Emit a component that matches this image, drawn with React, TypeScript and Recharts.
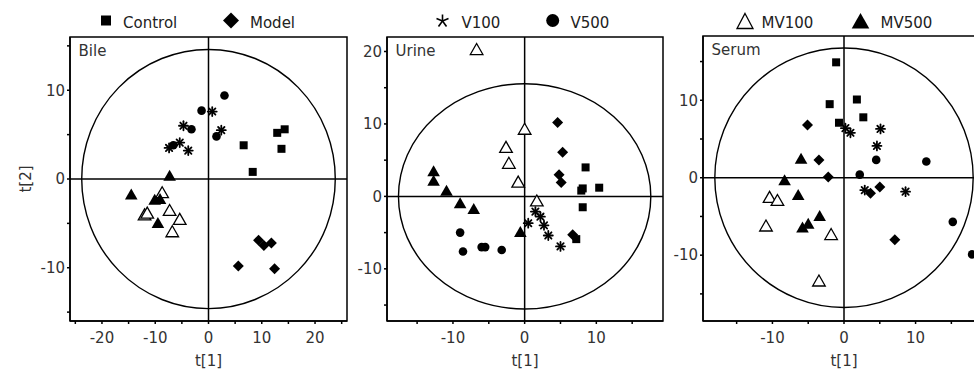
import { ScatterChart, Scatter, XAxis, YAxis, ReferenceLine, ReferenceArea } from "recharts";

const FONT = "'DejaVu Sans', sans-serif";

// ---- Bile scores ----
const bileControl = [{ x: 12.9, y: 5.2 }, { x: 14.3, y: 5.6 }, { x: 13.7, y: 3.4 }, { x: 6.6, y: 3.8 }, { x: 8.3, y: 0.8 }];
const bileModel = [{ x: 9.4, y: -6.9 }, { x: 10.4, y: -7.5 }, { x: 11.8, y: -7.2 }, { x: 5.6, y: -9.8 }, { x: 12.4, y: -10.1 }];
const bileV100 = [{ x: 0.7, y: 7.6 }, { x: -4.7, y: 6.0 }, { x: -5.4, y: 4.1 }, { x: -7.4, y: 3.5 }, { x: -3.8, y: 3.2 }, { x: 2.4, y: 5.5 }];
const bileV500 = [{ x: -1.3, y: 7.7 }, { x: 3.0, y: 9.4 }, { x: -3.2, y: 5.6 }, { x: 1.5, y: 4.8 }, { x: -6.6, y: 3.8 }];
const bileMV100 = [{ x: -8.7, y: -1.6 }, { x: -12.0, y: -4.1 }, { x: -11.5, y: -3.9 }, { x: -7.3, y: -3.6 }, { x: -5.4, y: -4.6 }, { x: -6.8, y: -6.0 }];
const bileMV500 = [{ x: -7.3, y: 0.3 }, { x: -14.5, y: -1.8 }, { x: -10.1, y: -2.4 }, { x: -9.1, y: -2.3 }, { x: -9.5, y: -5.0 }];

// ---- Urine scores ----
const urineControl = [{ x: 8.5, y: 4.0 }, { x: 8.1, y: 1.1 }, { x: 7.9, y: 0.8 }, { x: 10.4, y: 1.2 }, { x: 8.1, y: -1.5 }, { x: 7.2, y: -5.9 }];
const urineModel = [{ x: 4.6, y: 10.2 }, { x: 5.3, y: 6.1 }, { x: 4.8, y: 3.0 }, { x: 5.1, y: 1.9 }, { x: 6.7, y: -5.3 }];
const urineV100 = [{ x: 0.5, y: -3.7 }, { x: 1.5, y: -2.1 }, { x: 2.2, y: -2.8 }, { x: 2.7, y: -4.0 }, { x: 3.3, y: -5.4 }, { x: 5.0, y: -6.9 }];
const urineV500 = [{ x: -9.0, y: -5.0 }, { x: -8.6, y: -7.6 }, { x: -6.0, y: -7.0 }, { x: -5.5, y: -7.0 }, { x: -3.2, y: -7.4 }];
const urineMV100 = [{ x: -6.7, y: 20.2 }, { x: 0, y: 9.2 }, { x: -2.6, y: 6.7 }, { x: -2.2, y: 4.5 }, { x: -0.9, y: 1.9 }, { x: 1.7, y: -0.7 }];
const urineMV500 = [{ x: -12.7, y: 3.4 }, { x: -12.7, y: 2.1 }, { x: -10.9, y: 0.7 }, { x: -9.0, y: -1.0 }, { x: -7.1, y: -1.8 }, { x: -0.6, y: -5.0 }];

// ---- Serum scores ----
const serumControl = [{ x: -1.1, y: 14.9 }, { x: -2.0, y: 9.5 }, { x: 1.8, y: 10.1 }, { x: 2.7, y: 7.8 }, { x: -0.7, y: 7.1 }];
const serumModel = [{ x: -5.1, y: 6.8 }, { x: -3.5, y: 2.3 }, { x: -2.2, y: 0.1 }, { x: 5.0, y: -1.2 }, { x: 3.7, y: -2.0 }, { x: 7.1, y: -8.0 }];
const serumV100 = [{ x: 0.2, y: 6.4 }, { x: 0.9, y: 5.8 }, { x: 5.1, y: 6.3 }, { x: 4.6, y: 4.1 }, { x: 2.9, y: -1.6 }, { x: 8.6, y: -1.8 }];
const serumV500 = [{ x: 4.5, y: 2.3 }, { x: 2.2, y: 0.4 }, { x: 11.5, y: 2.1 }, { x: 15.2, y: -5.7 }, { x: 17.9, y: -9.9 }];
const serumMV100 = [{ x: -10.4, y: -2.6 }, { x: -9.3, y: -3.0 }, { x: -10.9, y: -6.3 }, { x: -1.8, y: -7.4 }, { x: -3.5, y: -13.4 }];
const serumMV500 = [{ x: -6.0, y: 2.4 }, { x: -8.3, y: -0.4 }, { x: -6.4, y: -2.3 }, { x: -3.4, y: -5.0 }, { x: -5.0, y: -6.0 }, { x: -5.8, y: -6.5 }];

// axis ranges, ticks and Hotelling ellipse radii (t[1], t[2])
const bileXDomain = [-26, 26];
const bileYDomain = [-16, 16];
const bileXTicks = [-25, -20, -15, -10, -5, 0, 5, 10, 15, 20, 25];
const bileYTicks = [-15, -10, -5, 0, 5, 10, 15];
const bileEllipse = [23.8, 14.6];

const urineXDomain = [-19.2, 19.3];
const urineYDomain = [-17.2, 22];
const urineXTicks = [-15, -10, -5, 0, 5, 10, 15];
const urineYTicks = [-15, -10, -5, 0, 5, 10, 15, 20];
const urineEllipse = [17.6, 15.55];

const serumXDomain = [-19.7, 19.7];
const serumYDomain = [-18.5, 18.3];
const serumXTicks = [-15, -10, -5, 0, 5, 10, 15];
const serumYTicks = [-15, -10, -5, 0, 5, 10, 15];
const serumEllipse = [18.05, 16.75];

const groupNames = ["Control", "Model", "V100", "V500", "MV100", "MV500"];

// marker shapes
const Square = (p: any) => <rect x={p.cx - 4} y={p.cy - 4} width={8} height={8} fill="#000" />;
const Diamond = (p: any) => (
  <polygon points={`${p.cx},${p.cy - 5.5} ${p.cx + 5.5},${p.cy} ${p.cx},${p.cy + 5.5} ${p.cx - 5.5},${p.cy}`} fill="#000" />
);
const Dot = (p: any) => <circle cx={p.cx} cy={p.cy} r={4.3} fill="#000" />;
const Star = (p: any) => {
  const r = 4.5;
  const d = r * 0.707;
  return (
    <g stroke="#000" strokeWidth={1.8} strokeLinecap="round">
      <line x1={p.cx - r} y1={p.cy} x2={p.cx + r} y2={p.cy} />
      <line x1={p.cx} y1={p.cy - r} x2={p.cx} y2={p.cy + r} />
      <line x1={p.cx - d} y1={p.cy - d} x2={p.cx + d} y2={p.cy + d} />
      <line x1={p.cx - d} y1={p.cy + d} x2={p.cx + d} y2={p.cy - d} />
    </g>
  );
};
const triPts = (cx: number, cy: number) => `${cx},${cy - 6.5} ${cx + 6.3},${cy + 4.5} ${cx - 6.3},${cy + 4.5}`;
const OpenTri = (p: any) => <polygon points={triPts(p.cx, p.cy)} fill="#fff" stroke="#000" strokeWidth={1.3} />;
const FullTri = (p: any) => <polygon points={triPts(p.cx, p.cy)} fill="#000" />;

const shapes = [Square, Diamond, Star, Dot, OpenTri, FullTri];

const EllipseShape = (p: any) => (
  <ellipse
    cx={p.x + p.width / 2}
    cy={p.y + p.height / 2}
    rx={Math.abs(p.width) / 2}
    ry={Math.abs(p.height) / 2}
    fill="none"
    stroke="#000"
    strokeWidth={1.4}
  />
);

const YTitle = (p: any) => {
  const vb = p.viewBox || { x: 10, y: 37, width: 60, height: 284 };
  const x = vb.x + 16;
  const y = vb.y + vb.height / 2;
  return (
    <text x={x} y={y} transform={`rotate(-90, ${x}, ${y})`} textAnchor="middle" dy="0.35em" fill="#333" fontSize={15} fontFamily={FONT}>
      t[2]
    </text>
  );
};

const fmt = (v: number) => (v % 10 === 0 ? String(v) : "");

const tickStyle = { fill: "#333", fontSize: 15, fontFamily: FONT };

type PanelProps = {
  left: number;
  width: number;
  margin: { top: number; right: number; bottom: number; left: number };
  yAxisWidth: number;
  xDomain: number[];
  yDomain: number[];
  xTicks: number[];
  yTicks: number[];
  ellipse: number[];
  title: string;
  groups: { x: number; y: number }[][];
  yLabel?: boolean;
};

const Panel = (props: PanelProps) => {
  const { left, width, margin, yAxisWidth, xDomain, yDomain, xTicks, yTicks, ellipse, title, groups, yLabel } = props;
  return (
    <div style={{ position: "absolute", left, top: 0 }}>
      <ScatterChart width={width} height={371} margin={margin}>
        <XAxis
          type="number"
          dataKey="x"
          domain={xDomain}
          ticks={xTicks}
          allowDataOverflow
          interval={0}
          tickFormatter={fmt}
          tickSize={3}
          tickMargin={8}
          height={45}
          stroke="#000"
          strokeWidth={1.5}
          tick={tickStyle}
          label={{ value: "t[1]", position: "insideBottom", offset: 0, fill: "#333", fontSize: 15, fontFamily: FONT }}
        />
        <YAxis
          type="number"
          dataKey="y"
          domain={yDomain}
          ticks={yTicks}
          allowDataOverflow
          interval={0}
          tickFormatter={fmt}
          tickSize={3}
          tickMargin={2}
          width={yAxisWidth}
          stroke="#000"
          strokeWidth={1.5}
          tick={tickStyle}
          label={yLabel ? <YTitle /> : undefined}
        />
        <ReferenceArea
          x1={xDomain[0]}
          x2={xDomain[1]}
          y1={yDomain[0]}
          y2={yDomain[1]}
          fill="none"
          stroke="#000"
          strokeWidth={1.5}
          label={{ value: title, position: "insideTopLeft", offset: 8.5, fill: "#333", fontSize: 15, fontFamily: FONT }}
        />
        <ReferenceArea x1={-ellipse[0]} x2={ellipse[0]} y1={-ellipse[1]} y2={ellipse[1]} shape={EllipseShape} />
        <ReferenceLine x={0} stroke="#000" strokeWidth={1.5} />
        <ReferenceLine y={0} stroke="#000" strokeWidth={1.5} />
        {groups.map((g, i) => (
          <Scatter key={groupNames[i]} name={groupNames[i]} data={g} shape={shapes[i]} isAnimationActive={false} />
        ))}
      </ScatterChart>
    </div>
  );
};

const Legend = () => (
  <svg width={974} height={36} style={{ position: "absolute", left: 0, top: 0 }} fontFamily={FONT} fontSize={15}>
    <rect x={101} y={15.5} width={10} height={10} fill="#000" />
    <text x={123} y={27.5} fill="#222">{groupNames[0]}</text>
    <polygon points="231,12.5 239,20.5 231,28.5 223,20.5" fill="#000" />
    <text x={250} y={27.5} fill="#222">{groupNames[1]}</text>
    <g stroke="#000" strokeWidth={1.6}>
      <line x1={442.5} y1={14.5} x2={442.5} y2={21} />
      <line x1={442.5} y1={21} x2={436.5} y2={18.5} />
      <line x1={442.5} y1={21} x2={448.5} y2={18.5} />
      <line x1={442.5} y1={21} x2={438.5} y2={26.5} />
      <line x1={442.5} y1={21} x2={446.5} y2={26.5} />
    </g>
    <text x={461.5} y={27.5} fill="#222">{groupNames[2]}</text>
    <circle cx={552.7} cy={20.5} r={6.5} fill="#000" />
    <text x={570.5} y={27.5} fill="#222">{groupNames[3]}</text>
    <polygon points="745,13.5 753,28.5 737,28.5" fill="#fff" stroke="#000" strokeWidth={1.3} />
    <text x={761.5} y={27.5} fill="#222">{groupNames[4]}</text>
    <polygon points="860.5,13 869.3,28.5 851.7,28.5" fill="#000" />
    <text x={880.5} y={27.5} fill="#222">{groupNames[5]}</text>
  </svg>
);

export default function App() {
  return (
    <div style={{ position: "fixed", left: 0, top: 0, width: 974, height: 371, overflow: "hidden", background: "#fff" }}>
      <Panel
        left={0}
        width={360}
        margin={{ top: 37, right: 13, bottom: 5, left: 10 }}
        yAxisWidth={60}
        xDomain={bileXDomain}
        yDomain={bileYDomain}
        xTicks={bileXTicks}
        yTicks={bileYTicks}
        ellipse={bileEllipse}
        title="Bile"
        groups={[bileControl, bileModel, bileV100, bileV500, bileMV100, bileMV500]}
        yLabel
      />
      <Panel
        left={350}
        width={320}
        margin={{ top: 37, right: 7, bottom: 5, left: 7 }}
        yAxisWidth={30}
        xDomain={urineXDomain}
        yDomain={urineYDomain}
        xTicks={urineXTicks}
        yTicks={urineYTicks}
        ellipse={urineEllipse}
        title="Urine"
        groups={[urineControl, urineModel, urineV100, urineV500, urineMV100, urineMV500]}
      />
      <Panel
        left={670}
        width={330}
        margin={{ top: 36, right: 15, bottom: 5, left: 3 }}
        yAxisWidth={30}
        xDomain={serumXDomain}
        yDomain={serumYDomain}
        xTicks={serumXTicks}
        yTicks={serumYTicks}
        ellipse={serumEllipse}
        title="Serum"
        groups={[serumControl, serumModel, serumV100, serumV500, serumMV100, serumMV500]}
      />
      <Legend />
    </div>
  );
}
